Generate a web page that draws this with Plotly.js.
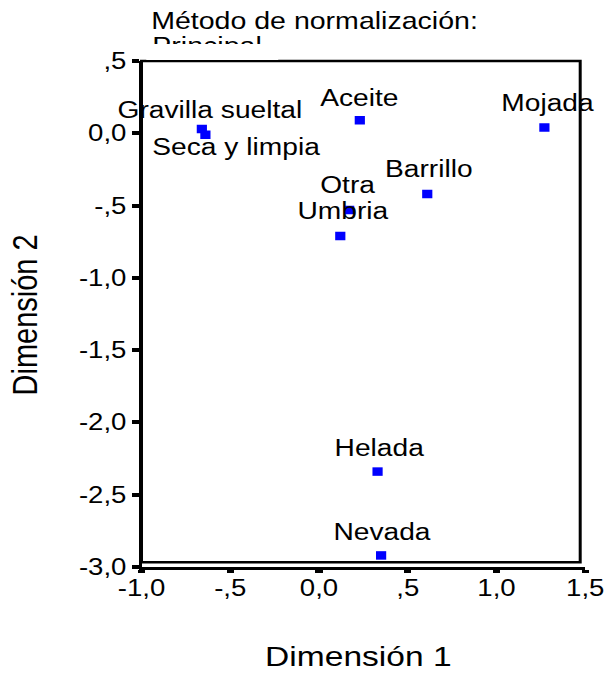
<!DOCTYPE html>
<html><head><meta charset="utf-8">
<script src="https://cdn.plot.ly/plotly-3.0.1.min.js"></script>
<style>
html,body{margin:0;padding:0;background:#fff;overflow:hidden;}
#chart{width:507px;height:673px;transform:scaleX(1.19921);transform-origin:0 0;}
</style>
</head><body><div id="chart"></div>
<script>
// ---- data ----
const categories = ["Gravilla sueltal","Seca y limpia","Aceite","Mojada","Barrillo","Otra","Umbria","Helada","Nevada"];
const dim1 = [-0.66, -0.64, 0.23, 1.27, 0.61, 0.17, 0.12, 0.33, 0.35];
const dim2 = [0.03, -0.01, 0.09, 0.04, -0.42, -0.53, -0.71, -2.34, -2.92];
const xTickVals = [-1, -0.5, 0, 0.5, 1, 1.5];
const xTickText = ["-1,0", "-,5", "0,0", ",5", "1,0", "1,5"];
const yTickVals = [0.5, 0, -0.5, -1, -1.5, -2, -2.5, -3];
const yTickText = [",5", "0,0", "-,5", "-1,0", "-1,5", "-2,0", "-2,5", "-3,0"];
const titleLines = ["Método de normalización:", "Principal"];
const xTitle = "Dimensión 1";
const yTitle = "Dimensión 2";

// ---- label placement (px offsets from each point) ----
const labelDx = [7, 26, -1, 3.5, 1.3, -1, 2.3, 1.7, 0.7];
const labelDy = [18.5, -12, 22, 25, 24.8, 25.2, 25.2, 24, 23];

const FONT = "'Liberation Sans', Arial, Helvetica, sans-serif";

const trace = {
  type: 'scatter', mode: 'markers',
  x: dim1, y: dim2, text: categories,
  marker: {symbol: 'square', size: 8.5, color: '#0000ff', line: {width: 0}},
  hoverinfo: 'text', showlegend: false
};

const labelAnns = categories.map((c, i) => ({
  x: dim1[i], y: dim2[i], xref: 'x', yref: 'y', text: c, showarrow: false,
  xanchor: 'center', yanchor: 'middle', xshift: labelDx[i], yshift: labelDy[i],
  borderpad: 0, borderwidth: 0, font: {family: FONT, size: 23.5, color: '#000'}
}));

const otherAnns = [
  {x: 0, y: 1, xref: 'paper', yref: 'paper', text: titleLines[0], showarrow: false,
   xanchor: 'left', yanchor: 'middle', xshift: 8, yshift: 41, borderpad: 0, borderwidth: 0,
   font: {family: FONT, size: 23.8, color: '#000'}},
  {x: 0, y: 1, xref: 'paper', yref: 'paper', text: titleLines[1], showarrow: false,
   xanchor: 'left', yanchor: 'middle', xshift: 9, yshift: 16, borderpad: 0, borderwidth: 0,
   font: {family: FONT, size: 23.8, color: '#000'}},
  {x: 0, y: 1, xref: 'paper', yref: 'paper', text: ' ', showarrow: false,
   xanchor: 'left', yanchor: 'middle', xshift: 4, yshift: 9.5, width: 110, height: 16,
   borderpad: 0, borderwidth: 0, bgcolor: '#ffffff', font: {family: FONT, size: 10, color: '#fff'}},
  {x: 0.5, y: 0, xref: 'paper', yref: 'paper', text: xTitle, showarrow: false,
   xanchor: 'center', yanchor: 'middle', xshift: -4, yshift: -89, borderpad: 0, borderwidth: 0,
   font: {family: FONT, size: 28, color: '#000'}},
  {x: 0, y: 0.5, xref: 'paper', yref: 'paper', text: yTitle, showarrow: false, textangle: -90,
   xanchor: 'center', yanchor: 'middle', xshift: -97.5, yshift: -1, borderpad: 0, borderwidth: 0,
   font: {family: FONT, size: 29, color: '#000'}}
];

const layout = {
  width: 507, height: 673,
  margin: {l: 118, r: 19, t: 61, b: 106, pad: 0},
  paper_bgcolor: '#ffffff', plot_bgcolor: '#ffffff',
  font: {family: FONT, color: '#000'},
  showlegend: false,
  xaxis: {
    range: [-1, 1.5], tickmode: 'array', tickvals: xTickVals, ticktext: xTickText,
    showgrid: false, zeroline: false, showline: true, linecolor: '#000', linewidth: 2.5,
    ticks: 'outside', ticklen: 3.5, tickwidth: 6, tickcolor: '#000', ticklabelstandoff: -5,
    tickfont: {family: FONT, size: 23, color: '#000'}, fixedrange: true
  },
  yaxis: {
    range: [-3, 0.5], tickmode: 'array', tickvals: yTickVals, ticktext: yTickText,
    showgrid: false, zeroline: false, showline: true, linecolor: '#000', linewidth: 2.5,
    ticks: 'outside', ticklen: 5.5, tickwidth: 4, tickcolor: '#000',
    tickfont: {family: FONT, size: 23, color: '#000'}, fixedrange: true
  },
  shapes: [
    {type: 'rect', xref: 'paper', yref: 'paper', x0: 0, x1: 0.9887, y0: 0.0093, y1: 1,
     line: {color: '#000', width: 2.5}, fillcolor: 'rgba(0,0,0,0)', layer: 'above'}
  ],
  annotations: labelAnns.concat(otherAnns)
};

Plotly.newPlot('chart', [trace], layout, {displayModeBar: false, staticPlot: true});
</script>
</body></html>
